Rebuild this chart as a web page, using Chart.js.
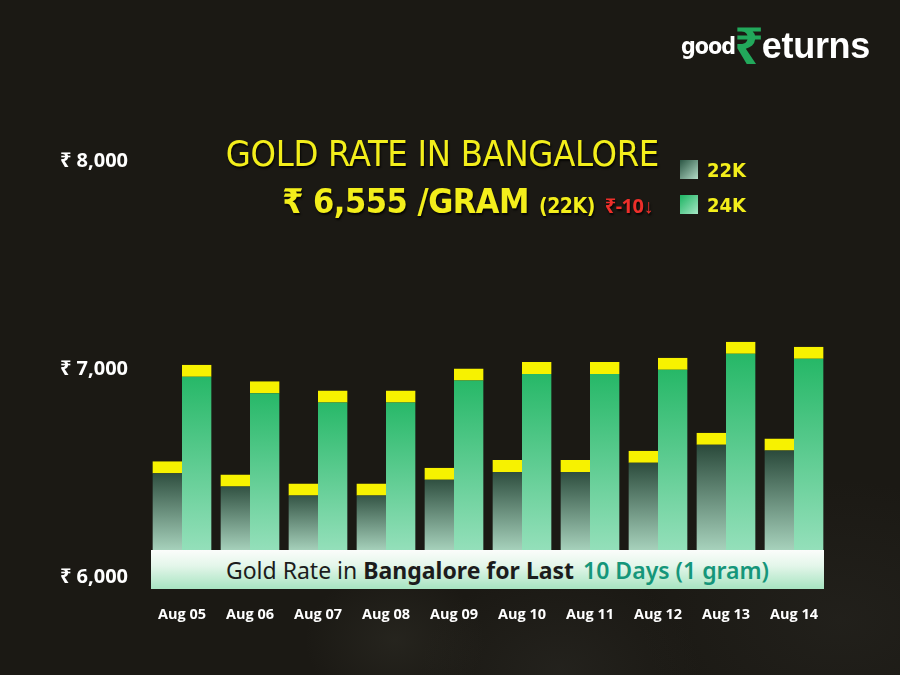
<!DOCTYPE html>
<html>
<head>
<meta charset="utf-8">
<script src="https://cdn.jsdelivr.net/npm/chart.js@4.4.1/dist/chart.umd.min.js"></script>
<style>
  html, body { margin: 0; padding: 0; }
  body { width: 900px; height: 675px; overflow: hidden; position: relative;
    background: radial-gradient(ellipse 90px 70px at 395px 640px, rgba(70,70,60,0.25), rgba(0,0,0,0)),
                radial-gradient(ellipse 140px 100px at 560px 670px, rgba(60,60,55,0.25), rgba(0,0,0,0)),
                radial-gradient(ellipse 200px 140px at 840px 620px, rgba(60,60,55,0.2), rgba(0,0,0,0)),
                #1b1914;
    font-family: "Open Sans", "Noto Sans", sans-serif; }
  #wrap { position: absolute; left: 0; top: 0; width: 900px; height: 675px; }
  .logo { position: absolute; left: 681px; top: 8px; white-space: nowrap; font-family: "Liberation Sans Narrow", "DejaVu Sans Condensed", sans-serif; font-weight: 700; color: #ffffff; }
  .logo .g { font-size: 23px; position: relative; top: -10px; letter-spacing: -1px; }
  .logo .r { font-size: 52px; color: #22a85b; font-family: "Noto Sans", "DejaVu Sans", sans-serif; position: relative; top: 0px; margin: 0 -2px 0 -1px; }
  .logo .e { font-size: 36px; font-family: "Liberation Sans", Arial, sans-serif; letter-spacing: -0.3px; position: relative; top: -6px; }
  .title { position: absolute; right: 241px; top: 131px; text-align: right; color: #f3ee1b;
    font-family: "Liberation Sans Narrow", "DejaVu Sans Condensed", sans-serif; white-space: nowrap;
    text-shadow: 1px 2px 2px rgba(0,0,0,0.8); }
  .title .l1 { font-size: 36px; line-height: 46px; letter-spacing: -0.3px; }
  .title .l2 { font-size: 34px; font-weight: 700; line-height: 48px; margin-right: 6px; letter-spacing: -0.5px; }
  .title .l2 .sm { font-size: 21px; letter-spacing: -0.5px; }
  .title .l2 .red { font-size: 20px; color: #ee2f2a; margin-left: 10px; font-family: "Noto Sans", sans-serif; font-weight: 700; }
  .legend { position: absolute; left: 680px; top: 152px; font-family: "Liberation Sans Narrow", "DejaVu Sans Condensed", sans-serif; font-weight: 700; font-size: 20px; color: #f3ee1b; }
  .legend .item { height: 35px; display: flex; align-items: center; }
  .legend .sw { width: 18px; height: 19px; margin-right: 9px; }
  .sw22 { background: linear-gradient(135deg, #2b5644, #b4dcc7); }
  .sw24 { background: linear-gradient(135deg, #1cb462, #a6e6c5); }
  .banner { position: absolute; left: 151px; top: 550px; width: 653px; height: 39px; padding-left: 20px;
    background: linear-gradient(to bottom, #fbfdfb 0%, #e4f6ea 40%, #a7e4c1 100%);
    display: flex; align-items: center; justify-content: center; white-space: nowrap;
    font-family: "Noto Sans", "Open Sans", sans-serif; font-size: 23px; color: #1c1c1c; }
  .banner b { font-weight: 700; }
  .banner .t { color: #15967a; font-weight: 600; margin-left: 9px; }
</style>
</head>
<body>
<div id="wrap"><canvas id="c" width="900" height="675"></canvas></div>
<div class="logo"><span class="g">good</span><span class="r">₹</span><span class="e">eturns</span></div>
<div class="title">
  <div class="l1">GOLD RATE IN BANGALORE</div>
  <div class="l2">₹ 6,555 /GRAM <span class="sm">(22K)</span><span class="red">₹-10↓</span></div>
</div>
<div class="legend">
  <div class="item"><div class="sw sw22"></div>22K</div>
  <div class="item"><div class="sw sw24"></div>24K</div>
</div>
<div class="banner">Gold Rate in&nbsp;<b>Bangalore for Last</b><span class="t">10 Days (1 gram)</span></div>
<script>
const categories = ['Aug 05', 'Aug 06', 'Aug 07', 'Aug 08', 'Aug 09', 'Aug 10', 'Aug 11', 'Aug 12', 'Aug 13', 'Aug 14'];
const rate22K = [6557, 6493, 6450, 6450, 6525, 6562, 6562, 6607, 6693, 6666];
const rate24K = [7021, 6941, 6897, 6897, 7003, 7034, 7034, 7054, 7131, 7107];
const yTicks = [6000, 7000, 8000];

function barGradient(top, bottom) {
  return function (ctx) {
    const chart = ctx.chart;
    const ys = chart.scales && chart.scales.y;
    if (!ys || !chart.chartArea || ctx.type !== 'data') return bottom;
    const yTop = ys.getPixelForValue(ctx.raw);
    const yBot = chart.chartArea.bottom - 25;
    const g = chart.ctx.createLinearGradient(0, yTop, 0, yBot);
    g.addColorStop(0, top);
    g.addColorStop(1, bottom);
    return g;
  };
}

const capBorder = { top: 12, right: 0, bottom: 0, left: 0 };

new Chart(document.getElementById('c'), {
  type: 'bar',
  data: {
    labels: categories,
    datasets: [
      { label: '22K', data: rate22K, backgroundColor: barGradient('#1c3a2c', '#a9d4be'),
        borderColor: '#f7f200', borderWidth: capBorder, borderSkipped: false },
      { label: '24K', data: rate24K, backgroundColor: barGradient('#1fb562', '#95e0bb'),
        borderColor: '#f7f200', borderWidth: capBorder, borderSkipped: false }
    ]
  },
  options: {
    responsive: false,
    animation: false,
    devicePixelRatio: 1,
    layout: { padding: { left: 0, right: 72, top: 161, bottom: 0 } },
    datasets: { bar: { categoryPercentage: 0.87, barPercentage: 1.0 } },
    plugins: { legend: { display: false }, tooltip: { enabled: false }, title: { display: false } },
    scales: {
      x: {
        grid: { display: false, drawTicks: false },
        border: { display: false },
        ticks: { color: '#ffffff', padding: 29, maxRotation: 0,
          font: { family: '"Open Sans", "Noto Sans", sans-serif', size: 14.5, weight: '700' } },
        afterFit: function (s) { s.height = 98; }
      },
      y: {
        min: 6000, max: 8000,
        grid: { display: false, drawTicks: false },
        border: { display: false },
        afterBuildTicks: function (s) { s.ticks = yTicks.map(v => ({ value: v })); },
        ticks: { color: '#ffffff', padding: 20,
          font: { family: '"Open Sans", "Noto Sans", sans-serif', size: 20, weight: '700' },
          callback: function (v) { return '₹ ' + v.toLocaleString('en-US'); } },
        afterFit: function (s) { s.width = 148; }
      }
    }
  }
});
</script>
</body>
</html>
